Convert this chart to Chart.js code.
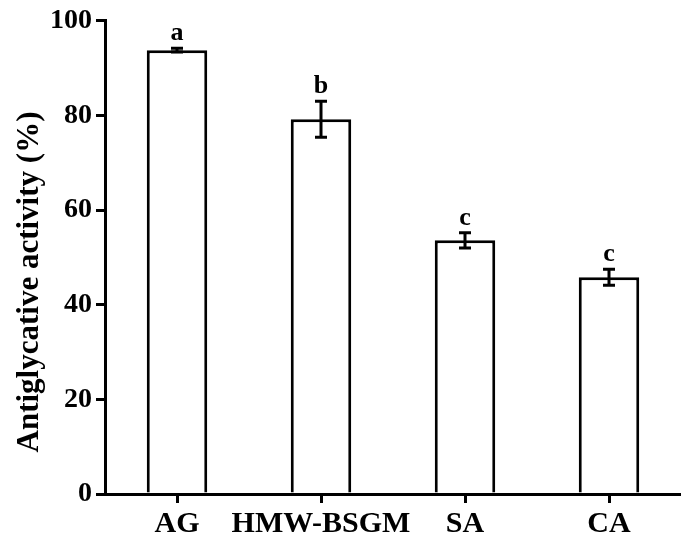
<!DOCTYPE html>
<html>
<head>
<meta charset="utf-8">
<script src="https://cdn.jsdelivr.net/npm/chart.js@4"></script>
<style>
  html, body { margin: 0; padding: 0; background: #fff; }
  #wrap { width: 681px; height: 545px; }
</style>
</head>
<body>
<div id="wrap"><canvas id="chart" width="681" height="545"></canvas></div>
<script>
// data
const categories = ['AG', 'HMW-BSGM', 'SA', 'CA'];
const means = [93.8, 79.2, 53.6, 45.8];
const errors = [0.4, 3.8, 1.6, 1.7];
const letters = ['a', 'b', 'c', 'c'];
const yTicks = [0, 20, 40, 60, 80, 100];
const yTitle = 'Antiglycative activity (%)';

const FONT = '"Liberation Serif", "Times New Roman", serif';

// error bars, significance letters, y title (drawn a bit below centre like the original)
const errorBarPlugin = {
  id: 'errorBars',
  afterDatasetsDraw(chart) {
    const ctx = chart.ctx;
    const y = chart.scales.y;
    const meta = chart.getDatasetMeta(0);
    ctx.save();
    ctx.strokeStyle = '#000';
    ctx.lineWidth = 3;
    meta.data.forEach((bar, i) => {
      const x = bar.x;
      const top = y.getPixelForValue(means[i] + errors[i]);
      const bot = y.getPixelForValue(means[i] - errors[i]);
      ctx.beginPath();
      ctx.moveTo(x, top); ctx.lineTo(x, bot);
      ctx.moveTo(x - 6, top); ctx.lineTo(x + 6, top);
      ctx.moveTo(x - 6, bot); ctx.lineTo(x + 6, bot);
      ctx.stroke();
      ctx.fillStyle = '#000';
      ctx.font = 'bold 26px ' + FONT;
      ctx.textAlign = 'center';
      ctx.textBaseline = 'bottom';
      ctx.fillText(letters[i], x, top - 2);
    });
    ctx.translate(30, 282);
    ctx.rotate(-Math.PI / 2);
    ctx.font = 'bold 31px ' + FONT;
    ctx.textAlign = 'center';
    ctx.textBaseline = 'middle';
    ctx.fillStyle = '#000';
    ctx.fillText(yTitle, 0, 0);
    ctx.restore();
  }
};

new Chart(document.getElementById('chart'), {
  type: 'bar',
  data: {
    labels: categories,
    datasets: [{
      data: means,
      backgroundColor: '#fff',
      borderColor: '#000',
      borderWidth: 3,
      categoryPercentage: 1,
      barPercentage: 0.42
    }]
  },
  options: {
    responsive: false,
    animation: false,
    layout: { padding: { top: 12, right: 0, left: 0, bottom: 0 } },
    plugins: { legend: { display: false }, tooltip: { enabled: false } },
    scales: {
      x: {
        afterFit: s => { s.height = 51; },
        grid: { drawOnChartArea: false, offset: false, color: '#000', lineWidth: 3, tickLength: 9 },
        border: { color: '#000', width: 3 },
        ticks: { color: '#000', font: { family: FONT, size: 30, weight: 'bold' }, padding: 3, maxRotation: 0, minRotation: 0, autoSkip: false }
      },
      y: {
        min: 0, max: 100,
        afterBuildTicks: s => { s.ticks = yTicks.map(v => ({ value: v })); },
        afterFit: s => { s.width = 105; },
        grid: { drawOnChartArea: false, color: '#000', lineWidth: 3, tickLength: 9 },
        border: { color: '#000', width: 3 },
        ticks: { color: '#000', font: { family: FONT, size: 28, weight: 'bold' }, padding: 4 }
      }
    }
  },
  plugins: [errorBarPlugin]
});
</script>
</body>
</html>
